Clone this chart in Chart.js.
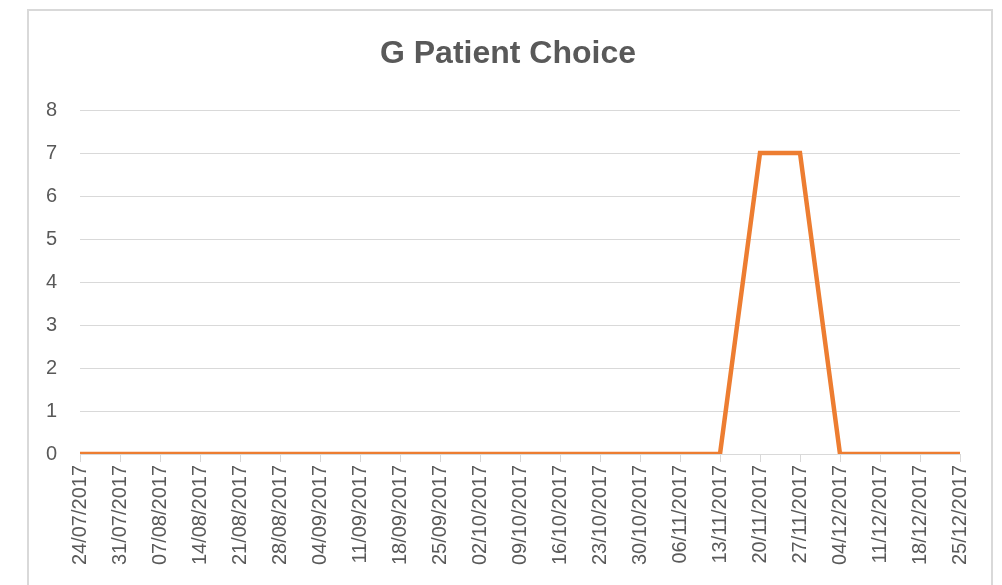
<!DOCTYPE html>
<html>
<head>
    <title>G Patient Choice</title>
    <style>
        html, body {
            margin: 0;
            padding: 0;
            background-color: #fff;
            overflow: hidden;
        }
        .frame {
            position: absolute;
            left: 27px;
            top: 9px;
            width: 962px;
            height: 620px;
            border: 2px solid #d9d9d9;
        }
        .chart-box {
            position: absolute;
            left: 0;
            top: 0;
            width: 960px;
            height: 574px;
        }
    </style>
</head>
<body>
    <div class="frame">
        <div class="chart-box">
            <canvas id="choice-chart"></canvas>
        </div>
    </div>

    <script src="https://cdn.jsdelivr.net/npm/chart.js"></script>
    <script>
        // weekly dates on the x axis
        const weeks = [
            "24/07/2017", "31/07/2017", "07/08/2017", "14/08/2017", "21/08/2017",
            "28/08/2017", "04/09/2017", "11/09/2017", "18/09/2017", "25/09/2017",
            "02/10/2017", "09/10/2017", "16/10/2017", "23/10/2017", "30/10/2017",
            "06/11/2017", "13/11/2017", "20/11/2017", "27/11/2017", "04/12/2017",
            "11/12/2017", "18/12/2017", "25/12/2017"
        ];
        const patientChoice = [0, 0, 0, 0, 0, 0, 0, 0, 0, 0, 0, 0, 0, 0, 0, 0, 0, 7, 7, 0, 0, 0, 0];
        const yTicks = [0, 1, 2, 3, 4, 5, 6, 7, 8];
        const chartTitle = "G Patient Choice";

        const textColor = "#595959";
        const gridColor = "#d9d9d9";
        const fontFamily = "'Liberation Sans', Arial, sans-serif";

        // title centred on the whole frame, not just the padded layout box
        const frameTitle = {
            id: "frameTitle",
            afterDraw(chart) {
                const c = chart.ctx;
                c.save();
                c.font = "bold 32px " + fontFamily;
                c.fillStyle = textColor;
                c.textAlign = "center";
                c.textBaseline = "middle";
                c.fillText(chartTitle, 479, 43);
                c.restore();
            },
        };

        const ctx = document.getElementById("choice-chart").getContext("2d");
        new Chart(ctx, {
            type: "line",
            data: {
                labels: weeks,
                datasets: [{
                    label: chartTitle,
                    data: patientChoice,
                    borderColor: "#ed7d31",
                    borderWidth: 4.5,
                    pointRadius: 0,
                    tension: 0,
                    fill: false,
                }],
            },
            options: {
                responsive: true,
                maintainAspectRatio: false,
                animation: false,
                layout: {
                    padding: { left: 0, right: 29, top: 99, bottom: 0 },
                },
                plugins: {
                    legend: { display: false },
                    tooltip: { enabled: false },
                    title: { display: false },
                },
                scales: {
                    x: {
                        type: "category",
                        offset: false,
                        border: { display: true, color: gridColor, width: 1 },
                        grid: {
                            display: true,
                            drawOnChartArea: false,
                            drawTicks: true,
                            tickLength: 8,
                            color: gridColor,
                        },
                        ticks: {
                            autoSkip: false,
                            minRotation: 90,
                            maxRotation: 90,
                            padding: 3,
                            color: textColor,
                            font: { family: fontFamily, size: 20 },
                        },
                        afterFit: (scale) => { scale.height = 131; },
                    },
                    y: {
                        min: 0,
                        max: 8,
                        border: { display: false },
                        grid: {
                            color: gridColor,
                            drawTicks: false,
                        },
                        afterBuildTicks: (scale) => {
                            scale.ticks = yTicks.map((v) => ({ value: v }));
                        },
                        ticks: {
                            padding: 23,
                            color: textColor,
                            font: { family: fontFamily, size: 20 },
                        },
                        afterFit: (scale) => { scale.width = 51; },
                    },
                },
            },
            plugins: [frameTitle],
        });
    </script>
</body>
</html>
